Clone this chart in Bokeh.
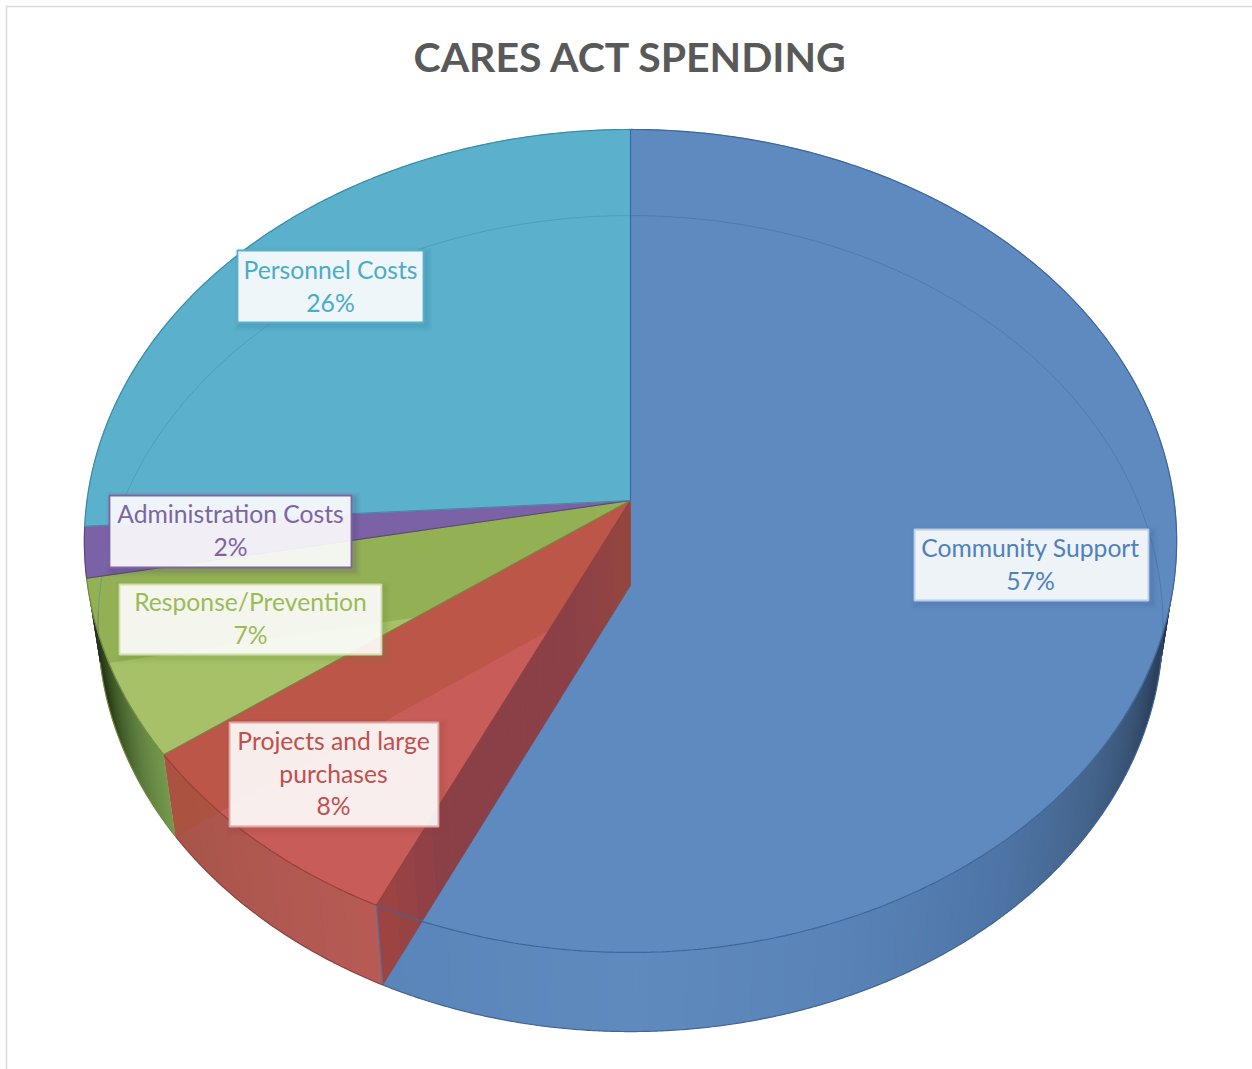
import numpy as np
from bokeh.core.properties import value
from bokeh.embed import file_html
from bokeh.models import Range1d
from bokeh.plotting import figure
from bokeh.resources import INLINE

# Budget shares, clockwise from twelve o'clock
categories = ["Community Support", "Projects and large purchases", "Response/Prevention",
              "Administration Costs", "Personnel Costs"]
shares = [57, 8, 7, 2, 26]
label_lines = [["Community Support", "57%"], ["Projects and large", "purchases", "8%"],
               ["Response/Prevention", "7%"], ["Administration Costs", "2%"],
               ["Personnel Costs", "26%"]]
title_text = "CARES ACT SPENDING"

face_colors = ["#5F8ABF", "#C85C58", "#A6C168", "#7B62A6", "#5BB0CB"]
rim_colors = ["#3F659A", "#94403C", "#6F8C3E", "#5C4680", "#3F8BA6"]
text_colors = ["#4F81BD", "#C0504D", "#9BBB59", "#8064A2", "#4BACC6"]
box_edges = ["#B9CDE5", "#DDA5A3", "#CEDDAB", "#8064A2", "#5BB0CB"]
shadow_colors = ["#3F659A", "#94403C", "#6F8C3E", "#4C3670", "#2F7B96"]

# Label boxes: left, right, top, bottom, centre x, first line y, line step
box_layout = [(914, 1148, 529, 600, 1030, 547, 33), (229, 438, 722, 826, 333, 740, 32.5),
              (119, 381, 584, 654, 250, 601, 33), (109, 351, 495, 567, 230, 513, 33),
              (237, 423, 250, 322, 330, 269, 33)]

# Perspective of the disc
CX, APEX_Y, KX, KY, PERSP = 630.0, 500.0, 543.5, 407.5, 0.0983
BOTTOM_APEX_Y, SX, SY_FRONT, SY_BACK = 585.0, 0.975, 0.987, 0.997


def top_pt(theta):
    u, v = np.sin(np.radians(theta)), np.cos(np.radians(theta))
    w = 1 + PERSP * v
    return CX + KX * u / w, APEX_Y - KY * v / w


def bottom_pt(theta):
    x, y = top_pt(theta)
    sy = SY_FRONT if y >= APEX_Y else SY_BACK
    return CX + SX * (x - CX), BOTTOM_APEX_Y + sy * (y - APEX_Y)


def arc(fn, a, b, n=90):
    pts = [fn(t) for t in np.linspace(a, b, n)]
    return [q[0] for q in pts], [q[1] for q in pts]


def mix(stops, t):
    ts = [s[0] for s in stops]
    rgb = [[int(s[1][i:i + 2], 16) for s in stops] for i in (1, 3, 5)]
    c = [int(round(np.interp(t, ts, ch))) for ch in rgb]
    return "#%02x%02x%02x" % tuple(c)


def draw_face(i):
    s, e = start[i], end[i]
    xs, ys = arc(top_pt, s, e, max(int((e - s) * 2), 12))
    p.patch([CX] + xs, [APEX_Y] + ys, fill_color=face_colors[i], line_color=face_colors[i], line_width=0.8)


edges = np.concatenate([[0], np.cumsum(shares)]) * 3.6
start = edges[:-1]
end = edges[1:]

p = figure(width=1252, height=1069, output_backend="svg", toolbar_location=None,
           x_range=Range1d(0, 1252), y_range=Range1d(1069, 0), min_border=0)
p.axis.visible = False
p.grid.visible = False
p.outline_line_color = None
p.background_fill_color = "white"
p.border_fill_color = "white"

# Page frame, open at the bottom and right
p.line([6, 6, 1252], [1069, 6, 6], line_color="#D9D9D9", line_width=1.5)

# Outer wall, shaded strip by strip; each strip runs under the next so no seams appear
wall_stops = [
    (0, [(90, "#121824"), (97, "#161E2C"), (105, "#26364F"), (115, "#364F70"), (125, "#436288"),
         (140, "#4D74A5"), (160, "#5A84B8"), (180, "#5F8ABE"), (205, "#5A85BA")]),
    (1, [(205, "#B85A55"), (220, "#AE5850"), (234, "#A85448")]),
    (2, [(234, "#76994C"), (240, "#5F8040"), (248, "#3A5224"), (254, "#1F2C12"), (260, "#141C0C")]),
]
for idx, stops in wall_stops:
    a = max(start[idx], 90)
    b = end[idx]
    grid = np.linspace(a, b, int((b - a) * 2) + 2)
    wall_xs, wall_ys, wall_fill = [], [], []
    for t0, t1 in zip(grid[:-1], grid[1:]):
        t1x = min(t1 + 0.6, b)
        a0, a1 = top_pt(t0), top_pt(t1x)
        b0, b1 = bottom_pt(t0), bottom_pt(t1x)
        wall_xs.append([a0[0], a1[0], b1[0], b0[0]])
        wall_ys.append([a0[1], a1[1], b1[1], b0[1]])
        wall_fill.append(mix(stops, (t0 + t1) / 2))
    p.patches(wall_xs, wall_ys, fill_color=wall_fill, line_color=None)

# Top faces of the slices other than red
for i in (0, 2, 3, 4):
    draw_face(i)

# Inner wall of the green/purple cut, seen through the top; it stops at the rim
gp_t = top_pt(end[2])
gp_b = bottom_pt(end[2])
gp_slope = (gp_b[1] - BOTTOM_APEX_Y) / (gp_b[0] - CX)
theta_c = end[2]
while theta_c > end[1]:
    qx, qy = top_pt(theta_c)
    if qy >= BOTTOM_APEX_Y + (qx - CX) * gp_slope:
        break
    theta_c -= 0.25
rim_x, rim_y = arc(top_pt, end[2], theta_c, 24)
p.patch([CX] + rim_x + [CX], [APEX_Y] + rim_y + [BOTTOM_APEX_Y],
        fill_color="#7FA040", fill_alpha=0.5, line_color=None)

# Red face lies over that wall, with the red/green cut showing through it
draw_face(1)
rg_t = top_pt(end[1])
rg_b = bottom_pt(end[1])
p.patch([CX, rg_t[0], rg_b[0], CX], [APEX_Y, rg_t[1], rg_b[1], BOTTOM_APEX_Y],
        fill_color="#AE5038", fill_alpha=0.5, line_color=None)

# Cut wall between the blue and red slices
br_t = top_pt(end[0])
br_b = bottom_pt(end[0])
steps = np.linspace(0, 1, 15)
cut_xs, cut_ys, cut_fill = [], [], []
cut_stops = [(0, "#96463F"), (0.25, "#8B4048"), (0.75, "#8B4048"), (1, "#A04440")]
for f0, f1 in zip(steps[:-1], steps[1:]):
    cut_xs.append([CX + (br_t[0] - CX) * f0, CX + (br_t[0] - CX) * f1,
                   CX + (br_b[0] - CX) * f1, CX + (br_b[0] - CX) * f0])
    cut_ys.append([APEX_Y + (br_t[1] - APEX_Y) * f0, APEX_Y + (br_t[1] - APEX_Y) * f1,
                   BOTTOM_APEX_Y + (br_b[1] - BOTTOM_APEX_Y) * f1,
                   BOTTOM_APEX_Y + (br_b[1] - BOTTOM_APEX_Y) * f0])
    cut_fill.append(mix(cut_stops, (f0 + f1) / 2))
p.patches(cut_xs, cut_ys, fill_color=cut_fill, line_color=cut_fill, line_width=0.6)
p.line([br_t[0], br_b[0]], [br_t[1], br_b[1]], line_color="#55709F", line_width=1.2)

# Back of the lower rim showing through the top faces
for s, e, rc in zip(start, end, rim_colors):
    if s < 90:
        xs, ys = arc(bottom_pt, s, 100)
        p.line(xs, ys, line_color=rc, line_alpha=0.45, line_width=1)
    elif e > 262:
        xs, ys = arc(bottom_pt, max(s, 262), e)
        p.line(xs, ys, line_color=rc, line_alpha=0.45, line_width=1)

# Rims and radial seams of the top face
for s, e, rc in zip(start, end, rim_colors):
    xs, ys = arc(top_pt, s, e, max(int((e - s) * 2), 12))
    p.line(xs, ys, line_color=rc, line_width=1.2)
    sx, sy = top_pt(s)
    p.line([CX, sx], [APEX_Y, sy], line_color=rc, line_width=1.1)
for s, e, rc in zip(start[:3], end[:3], rim_colors[:3]):
    xs, ys = arc(bottom_pt, max(s, 100), min(e, 262), max(int((e - s) * 2), 12))
    p.line(xs, ys, line_color=rc, line_width=1.2)

# Data labels: soft shadow, translucent box, text
for layout, lines, tc, edge, sc in zip(box_layout, label_lines, text_colors, box_edges, shadow_colors):
    x0, x1, y0, y1, mid, first, step = layout
    for grow, alpha in ((6, 0.05), (4, 0.07), (2, 0.10)):
        p.quad(left=x0 + 3 - grow, right=x1 + 3 + grow, top=y0 + 3 - grow, bottom=y1 + 3 + grow,
               fill_color=sc, fill_alpha=alpha, line_color=None)
    p.quad(left=x0, right=x1, top=y0, bottom=y1, fill_color="white", fill_alpha=0.9,
           line_color=edge, line_width=1.8)
    ys = [first + i * step for i in range(len(lines))]
    p.text([mid] * len(lines), ys, text=lines, text_color=tc, text_align="center",
           text_baseline="middle", text_font=value("Lato"), text_font_size=value("24.7px"))

p.text([630.5], [56], text=[title_text], text_color="#595959", text_align="center",
       text_baseline="middle", text_font=value("Lato"), text_font_style="bold",
       text_font_size=value("41px"))

open("out.html", "w").write(file_html(p, INLINE))
